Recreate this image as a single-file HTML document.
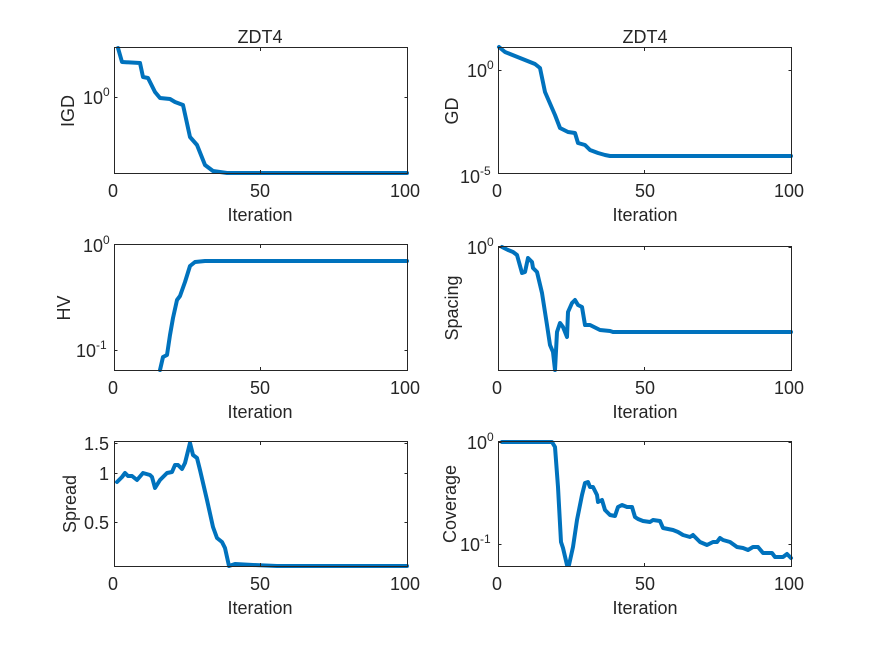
<!DOCTYPE html>
<html><head><meta charset="utf-8"><style>
html,body{margin:0;padding:0;background:#fff;}
svg{display:block;}
text{font-family:"Liberation Sans",Arial,sans-serif;fill:#262626;font-size:18px;}
.ax{fill:none;stroke:#262626;stroke-width:1;}
.tk{stroke:#262626;stroke-width:1;}
.ln{fill:none;stroke:#0072BD;stroke-width:4;stroke-linejoin:round;stroke-linecap:round;}
</style></head><body>
<svg width="875" height="656" viewBox="0 0 875 656" xmlns="http://www.w3.org/2000/svg">
<rect width="875" height="656" fill="#fff"/>

<!-- Top-left IGD -->
<text x="260" y="43" text-anchor="middle">ZDT4</text>
<polyline class="ln" points="118,48 122,62 140,63 143,77 148,78 155,92 160,98 170,99 175,102 183,105 190,137 197,145 205,165 213,171 227,173 407,173"/>
<rect class="ax" x="114.5" y="47.5" width="293" height="126"/>
<path class="tk" d="M114.5,97.5h3M407.5,97.5h-3M260.5,173v-3M260.5,48v3"/>
<text x="113" y="197" text-anchor="middle">0</text>
<text x="260" y="197" text-anchor="middle">50</text>
<text x="405" y="197" text-anchor="middle">100</text>
<text x="260" y="221" text-anchor="middle">Iteration</text>
<text x="83" y="104">10<tspan dy="-8" font-size="12">0</tspan></text>
<text transform="translate(74,111) rotate(-90)" text-anchor="middle">IGD</text>

<!-- Top-right GD -->
<text x="645" y="43" text-anchor="middle">ZDT4</text>
<polyline class="ln" points="499,47 505,52 520,58 535,64 540,68 545,92 555,115 560,128 568,132 575,133 578,143 585,145 590,150 598,153 605,155 610,156 791,156"/>
<rect class="ax" x="498.5" y="47.5" width="293" height="126"/>
<path class="tk" d="M498.5,70.5h3M791.5,70.5h-3M644.5,173v-3M644.5,48v3"/>
<text x="497" y="197" text-anchor="middle">0</text>
<text x="645" y="197" text-anchor="middle">50</text>
<text x="789" y="197" text-anchor="middle">100</text>
<text x="645" y="221" text-anchor="middle">Iteration</text>
<text x="467" y="77">10<tspan dy="-8" font-size="12">0</tspan></text>
<text x="460" y="183">10<tspan dy="-8" font-size="12">-5</tspan></text>
<text transform="translate(458,111) rotate(-90)" text-anchor="middle">GD</text>

<!-- Middle-left HV -->
<polyline class="ln" points="160,370 163,357 167,355 170,335 173,318 177,300 180,296 185,282 190,266 195,262 205,261 407,261"/>
<rect class="ax" x="114.5" y="244.5" width="293" height="126"/>
<path class="tk" d="M114.5,350.5h3M407.5,350.5h-3M260.5,370v-3M260.5,245v3"/>
<text x="113" y="394" text-anchor="middle">0</text>
<text x="260" y="394" text-anchor="middle">50</text>
<text x="405" y="394" text-anchor="middle">100</text>
<text x="260" y="418" text-anchor="middle">Iteration</text>
<text x="83" y="252">10<tspan dy="-8" font-size="12">0</tspan></text>
<text x="76" y="357">10<tspan dy="-8" font-size="12">-1</tspan></text>
<text transform="translate(70,308) rotate(-90)" text-anchor="middle">HV</text>

<!-- Middle-right Spacing -->
<polyline class="ln" points="502,247 508,250 513,252 517,255 522,273 525,272 528,258 532,262 533,268 537,272 542,293 547,325 550,345 553,352 555,370 557,332 560,323 563,327 567,337 568,312 572,303 575,300 578,305 582,307 585,325 590,325 600,330 610,331 613,332 791,332"/>
<rect class="ax" x="498.5" y="246.5" width="293" height="124"/>
<path class="tk" d="M498.5,247.5h3M791.5,247.5h-3M644.5,370v-3M644.5,247v3"/>
<text x="497" y="394" text-anchor="middle">0</text>
<text x="645" y="394" text-anchor="middle">50</text>
<text x="789" y="394" text-anchor="middle">100</text>
<text x="645" y="418" text-anchor="middle">Iteration</text>
<text x="467" y="254">10<tspan dy="-8" font-size="12">0</tspan></text>
<text transform="translate(458,308) rotate(-90)" text-anchor="middle">Spacing</text>

<!-- Bottom-left Spread -->
<polyline class="ln" points="117,482 122,477 125,473 128,476 132,476 137,480 143,473 150,475 152,477 155,488 160,480 167,473 172,472 175,465 178,465 182,469 185,463 190,443 193,455 197,458 200,470 207,500 213,527 217,538 222,542 225,548 229,566 235,564 253,565 277,566 317,566 407,566"/>
<rect class="ax" x="114.5" y="441.5" width="293" height="125"/>
<path class="tk" d="M114.5,443.5h3M407.5,443.5h-3M114.5,473.5h3M407.5,473.5h-3M114.5,522.5h3M407.5,522.5h-3M260.5,566v-3M260.5,442v3"/>
<text x="113" y="590" text-anchor="middle">0</text>
<text x="260" y="590" text-anchor="middle">50</text>
<text x="405" y="590" text-anchor="middle">100</text>
<text x="260" y="614" text-anchor="middle">Iteration</text>
<text x="109" y="450" text-anchor="end">1.5</text>
<text x="109" y="480" text-anchor="end">1</text>
<text x="109" y="529" text-anchor="end">0.5</text>
<text transform="translate(76,504) rotate(-90)" text-anchor="middle">Spread</text>

<!-- Bottom-right Coverage -->
<polyline class="ln" points="502,442 552,442 555,447 558,487 561,542 563,548 567,565 569,565 573,547 577,520 582,495 585,483 588,482 590,487 593,487 597,495 598,502 602,500 605,510 610,515 615,516 618,507 622,505 627,507 632,507 635,517 638,519 643,521 650,522 653,520 660,521 663,528 673,530 678,532 683,535 690,537 693,535 700,542 707,545 713,542 717,542 720,538 723,540 730,542 737,547 743,548 748,550 753,547 758,547 763,553 772,553 775,557 783,557 787,554 791,558"/>
<rect class="ax" x="498.5" y="441.5" width="293" height="125"/>
<path class="tk" d="M498.5,442.5h3M791.5,442.5h-3M498.5,544.5h3M791.5,544.5h-3M644.5,566v-3M644.5,442v3"/>
<text x="497" y="590" text-anchor="middle">0</text>
<text x="645" y="590" text-anchor="middle">50</text>
<text x="789" y="590" text-anchor="middle">100</text>
<text x="645" y="614" text-anchor="middle">Iteration</text>
<text x="467" y="449">10<tspan dy="-8" font-size="12">0</tspan></text>
<text x="460" y="551">10<tspan dy="-8" font-size="12">-1</tspan></text>
<text transform="translate(456,504) rotate(-90)" text-anchor="middle">Coverage</text>
</svg>
</body></html>
